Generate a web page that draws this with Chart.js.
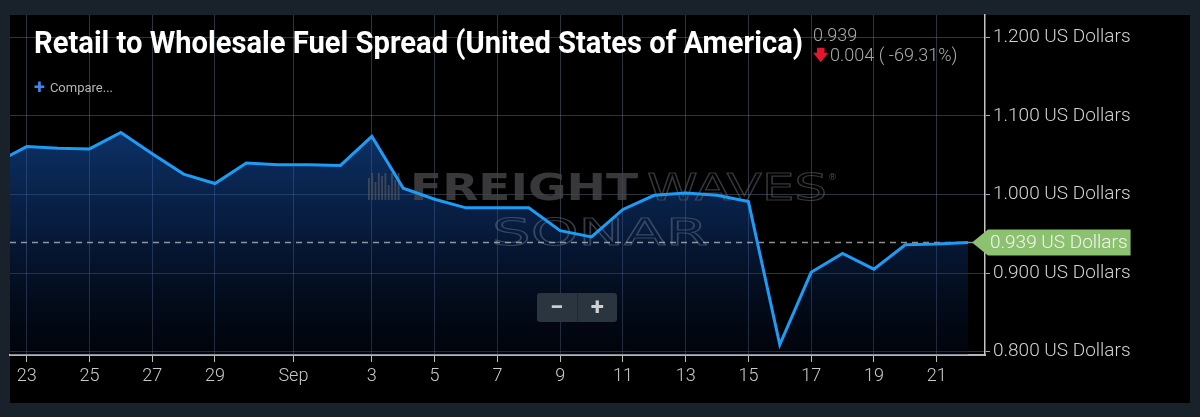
<!DOCTYPE html>
<html>
<head>
<meta charset="utf-8">
<script src="https://cdn.jsdelivr.net/npm/chart.js@4.4.1/dist/chart.umd.min.js"></script>
<style>
  html, body { margin: 0; padding: 0; background: #19222b; }
  #wrap { position: relative; width: 1200px; height: 417px; overflow: hidden; }
  #chart { position: absolute; left: 0; top: 0; }
  .ov { position: absolute; white-space: nowrap; font-family: Roboto, "Noto Sans", sans-serif; }
  #title { left: 34px; top: 26px; font-size: 32px; line-height: 32px; font-weight: 700; color: #fff; transform-origin: 0 0; }
  #last { left: 813px; top: 24px; font-size: 18px; line-height: 22px; font-weight: 300; color: #a9a9a9; }
  #change { left: 813px; top: 44px; font-size: 18px; line-height: 22px; font-weight: 300; color: #a9a9a9; }
  #change .dn { color: #e3152f; font-size: 15px; font-weight: 700; position: relative; top: -1px; margin-right: 2px; }
  #compare { left: 34px; top: 76px; font-size: 13px; line-height: 18px; font-weight: 400; color: #b5b5b5; }
  #compare b { color: #3d86f2; font-size: 20px; font-weight: 700; position: relative; top: 2px; margin-right: 5px; }
  #zoom { left: 537px; top: 293px; width: 80px; height: 29px; background: #2a3540; border-radius: 3px;
          color: #d0d0d0; font-size: 24px; font-weight: 700; line-height: 28px; display: flex; }
  #zoom span { flex: 1; text-align: center; }
  #zoom span + span { border-left: 1px solid #1f2831; }
</style>
</head>
<body>
<div id="wrap">
  <canvas id="chart" width="1200" height="417"></canvas>
  <div class="ov" id="title">Retail to Wholesale Fuel Spread (United States of America)</div>
  <div class="ov" id="last">0.939</div>
  <div class="ov" id="change"><span class="dn">&#129095;</span>0.004 ( -69.31%)</div>
  <div class="ov" id="compare"><b>+</b>Compare...</div>
  <div class="ov" id="zoom"><span>&minus;</span><span>+</span></div>
</div>
<script>
// daily spread, Aug 22 .. Sep 22
const days = [
  "Aug 22", "Aug 23", "Aug 24", "Aug 25", "Aug 26", "Aug 27", "Aug 28", "Aug 29", "Aug 30", "Aug 31",
  "Sep 1", "Sep 2", "Sep 3", "Sep 4", "Sep 5", "Sep 6", "Sep 7", "Sep 8", "Sep 9", "Sep 10", "Sep 11",
  "Sep 12", "Sep 13", "Sep 14", "Sep 15", "Sep 16", "Sep 17", "Sep 18", "Sep 19", "Sep 20", "Sep 21", "Sep 22"
];
const spread = [
  1.040, 1.061, 1.059, 1.058, 1.079, 1.052, 1.026, 1.014, 1.040, 1.038,
  1.038, 1.037, 1.074, 1.008, 0.994, 0.983, 0.983, 0.983, 0.954, 0.946, 0.981,
  0.999, 1.002, 0.999, 0.991, 0.809, 0.901, 0.925, 0.905, 0.936, 0.937, 0.939
];
const xTickValues = [1, 3, 5, 7, 9.5, 12, 14, 16, 18, 20, 22, 24, 26, 28, 30];
const xTickLabels = ["23", "25", "27", "29", "Sep", "3", "5", "7", "9", "11", "13", "15", "17", "19", "21"];
const yTickValues = [0.8, 0.9, 1.0, 1.1, 1.2];
const unit = "US Dollars";

// squeeze the title to the condensed width of the original
const title = document.getElementById("title");
title.style.transform = "scaleX(" + (769 / title.scrollWidth) + ")";

const gridColor = "rgba(110,130,160,0.40)";
const lastValue = spread[spread.length - 1];

const panelPlugin = {
  id: "panel",
  beforeDraw(chart) {
    const ctx = chart.ctx;
    ctx.save();
    ctx.fillStyle = "#19222b";
    ctx.fillRect(0, 0, chart.width, chart.height);
    ctx.fillStyle = "#000";
    ctx.fillRect(10, 15, 1180, 388);
    ctx.restore();
  },
  beforeDatasetsDraw(chart) {
    // watermark sits over the fill, under the line
    const ctx = chart.ctx;
    ctx.save();
    ctx.beginPath();
    ctx.rect(chart.chartArea.left, chart.chartArea.top, chart.chartArea.width, chart.chartArea.height);
    ctx.clip();
    ctx.fillStyle = "rgba(85,85,90,0.7)";
    const bars = [22, 27, 18, 27, 24, 27, 15, 27, 20, 27];
    bars.forEach((h, i) => ctx.fillRect(368 + i * 3.3, 200 - h, 1.8, h));
    const fit = (txt, x, y, w, stroke) => {
      const tw = ctx.measureText(txt).width;
      ctx.save();
      ctx.translate(x, y);
      ctx.scale(w / tw, 1);
      if (stroke) ctx.strokeText(txt, 0, 0); else ctx.fillText(txt, 0, 0);
      ctx.restore();
    };
    ctx.textBaseline = "alphabetic";
    ctx.font = "bold 37px 'DejaVu Sans'";
    ctx.fillStyle = "rgba(70,70,74,0.8)";
    fit("FREIGHT", 410, 200, 228, false);
    ctx.font = "37px 'DejaVu Sans'";
    ctx.lineWidth = 1.1;
    ctx.strokeStyle = "rgba(100,100,108,0.55)";
    fit("WAVES", 647, 200, 180, true);
    ctx.strokeStyle = "rgba(95,110,135,0.55)";
    fit("SONAR", 492, 245, 216, true);
    ctx.font = "9px 'DejaVu Sans'";
    ctx.fillStyle = "rgba(105,105,112,0.7)";
    ctx.fillText("\u00ae", 828, 180);
    // dashed last-value line
    const y = chart.scales.y.getPixelForValue(lastValue);
    ctx.setLineDash([6, 5]);
    ctx.lineWidth = 1.5;
    ctx.strokeStyle = "rgba(190,190,190,0.75)";
    ctx.beginPath();
    ctx.moveTo(chart.chartArea.left, y);
    ctx.lineTo(chart.chartArea.right, y);
    ctx.stroke();
    ctx.restore();
  },
  afterDraw(chart) {
    // green last-value tag on the right axis
    const ctx = chart.ctx;
    const y = chart.scales.y.getPixelForValue(lastValue);
    const x0 = chart.chartArea.right + 3;
    const txt = lastValue.toFixed(3) + " " + unit;
    ctx.save();
    ctx.font = "300 19px Roboto";
    const w = ctx.measureText(txt).width + 5;
    ctx.fillStyle = "#8cc26f";
    ctx.beginPath();
    ctx.moveTo(x0 - 16, y);
    ctx.lineTo(x0, y - 13);
    ctx.lineTo(x0 + w, y - 13);
    ctx.lineTo(x0 + w, y + 13);
    ctx.lineTo(x0, y + 13);
    ctx.closePath();
    ctx.fill();
    ctx.fillStyle = "#f4f4f4";
    ctx.textBaseline = "middle";
    ctx.fillText(txt, x0 + 2, y + 1);
    ctx.restore();
  }
};

new Chart(document.getElementById("chart"), {
  type: "line",
  data: {
    labels: days,
    datasets: [{
      data: spread.map((v, i) => ({ x: i, y: v })),
      borderColor: "#1d9cf5",
      borderWidth: 3,
      pointRadius: 0,
      tension: 0,
      fill: "start",
      backgroundColor(context) {
        const area = context.chart.chartArea;
        if (!area) return "rgba(25,85,170,0.45)";
        const g = context.chart.ctx.createLinearGradient(0, area.top + 100, 0, area.bottom);
        g.addColorStop(0, "rgba(24,92,190,0.58)");
        g.addColorStop(0.45, "rgba(18,68,150,0.42)");
        g.addColorStop(1, "rgba(4,14,40,0.25)");
        return g;
      }
    }]
  },
  options: {
    responsive: false,
    animation: false,
    layout: { padding: { left: 10, top: 15, right: 10, bottom: 14 } },
    plugins: {
      legend: { display: false },
      tooltip: { enabled: false },
      filler: { drawTime: "beforeDatasetsDraw" }
    },
    scales: {
      x: {
        type: "linear",
        min: 0.468,
        max: 31.54,
        afterBuildTicks(axis) { axis.ticks = xTickValues.map(v => ({ value: v })); },
        afterFit(axis) { axis.height = 48; },
        grid: { color: gridColor, tickColor: "#bdbdbd", tickLength: 7, lineWidth: 1 },
        border: { color: "#b5b5b5", width: 2 },
        ticks: {
          autoSkip: false,
          maxRotation: 0,
          padding: 4,
          color: "#c9c9c9",
          font: { family: "Roboto", size: 18, weight: 300 },
          callback: (v, i) => xTickLabels[i]
        }
      },
      y: {
        position: "right",
        min: 0.7958,
        max: 1.2284,
        afterBuildTicks(axis) { axis.ticks = yTickValues.map(v => ({ value: v })); },
        afterFit(axis) { axis.width = 205; },
        grid: { color: gridColor, tickColor: "#aaaaaa", tickLength: 5, lineWidth: 1 },
        border: { color: "#c4c4c4", width: 1.5 },
        ticks: {
          padding: 3,
          color: "#d2d2d2",
          font: { family: "Roboto", size: 19, weight: 300 },
          callback: v => v.toFixed(3) + " " + unit
        }
      }
    }
  },
  plugins: [panelPlugin]
});
</script>
</body>
</html>
